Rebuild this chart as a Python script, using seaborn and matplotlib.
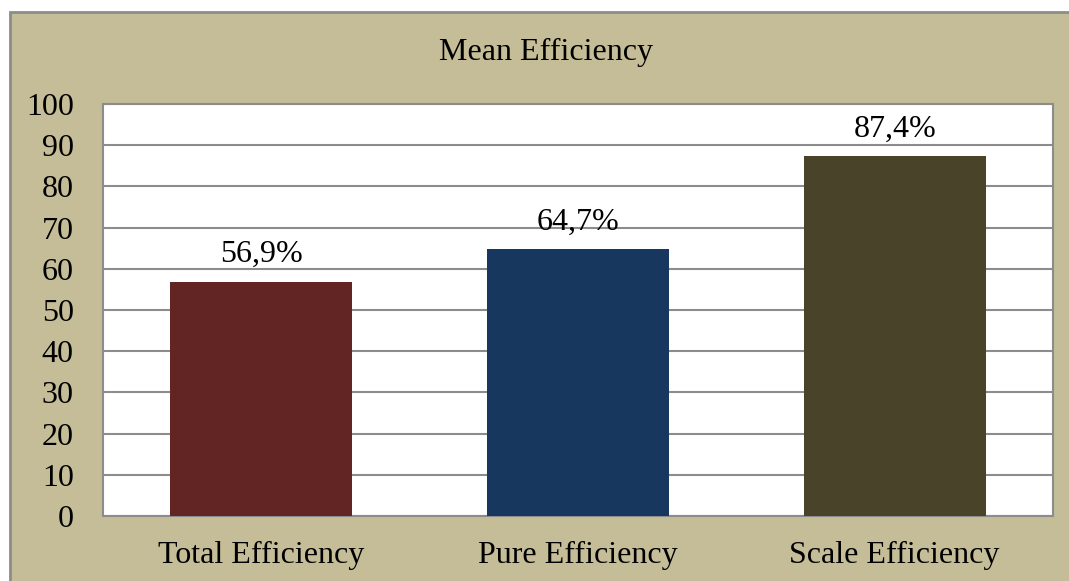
import matplotlib
matplotlib.use("Agg")
import matplotlib.pyplot as plt
import seaborn as sns
import pandas as pd
from matplotlib.patches import Rectangle

categories = ["Total Efficiency", "Pure Efficiency", "Scale Efficiency"]
values = [56.9, 64.7, 87.4]
labels = ["56,9%", "64,7%", "87,4%"]
colors = ["#632523", "#17375E", "#494429"]
yticks = [0, 10, 20, 30, 40, 50, 60, 70, 80, 90, 100]
title = "Mean Efficiency"

sns.set_style("white")
plt.rcParams["font.family"] = ["Liberation Serif", "DejaVu Serif"]
plt.rcParams["text.color"] = "black"

W, H = 1069, 581
fig = plt.figure(figsize=(W / 100, H / 100), dpi=100)
fig.patch.set_facecolor("white")
bg = Rectangle((10 / W, -0.01), 1.05, 1 - 12 / H + 0.01, transform=fig.transFigure,
               facecolor="#C4BD97", edgecolor="#8C8C8C", linewidth=2, zorder=-10)
fig.patches.append(bg)

left, right, top, bottom = 103, 1053, 104, 516
ax = fig.add_axes([left / W, 1 - bottom / H, (right - left) / W, (bottom - top) / H])
ax.set_zorder(5)
ax.set_facecolor("white")

df = pd.DataFrame({"cat": categories, "val": values})
sns.barplot(data=df, x="cat", y="val", hue="cat", palette=colors, width=0.575,
            legend=False, ax=ax, saturation=1, zorder=3, linewidth=0)

ax.set_ylim(0, 100)
ax.set_yticks(yticks)
ax.yaxis.grid(True, color="#8C8C8C", linewidth=1.5, zorder=0)
ax.set_axisbelow(True)
for s in ax.spines.values():
    s.set_color("#8C8C8C")
    s.set_linewidth(1.5)
ax.tick_params(axis="both", length=0, labelsize=23, colors="black")
ax.tick_params(axis="y", pad=21)
ax.tick_params(axis="x", pad=18)
ax.set_xlabel("")
ax.set_ylabel("")

for i, (v, lab) in enumerate(zip(values, labels)):
    ax.annotate(lab, (i, v), xytext=(0, 9), textcoords="offset points",
                ha="center", va="bottom", fontsize=23, color="black")

fig.text(546 / W, 1 - 52 / H, title, ha="center", va="center", fontsize=23, color="black")

fig.savefig("out.png", dpi=100)
